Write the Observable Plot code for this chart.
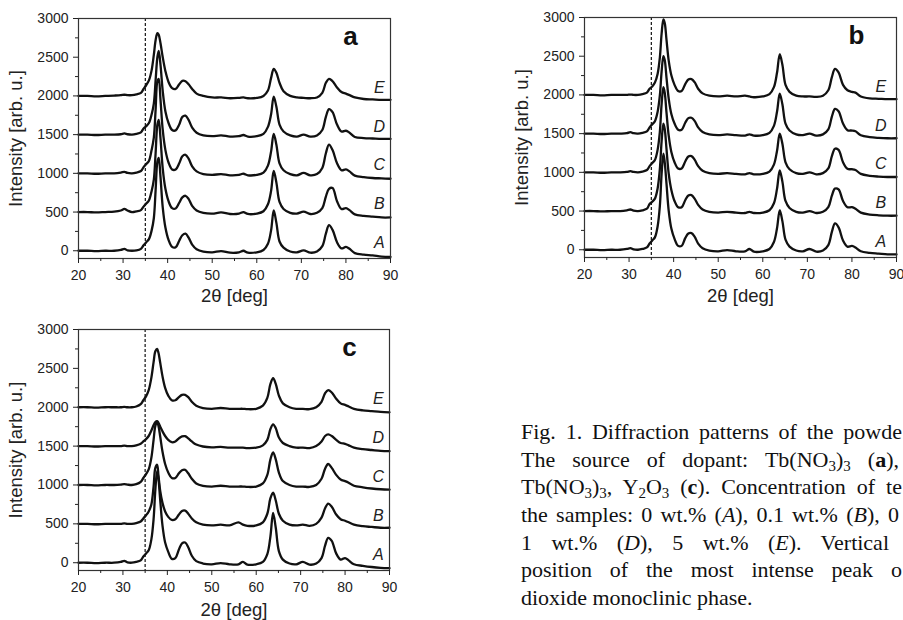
<!DOCTYPE html>
<html><head><meta charset="utf-8">
<script src="https://cdn.jsdelivr.net/npm/d3@7"></script>
<script src="https://cdn.jsdelivr.net/npm/@observablehq/plot@0.6"></script>
<style>
html,body{margin:0;padding:0;background:#fff;overflow:hidden;}
#wrap{position:relative;width:903px;height:620px;overflow:hidden;background:#fff;}
.panel{position:absolute;}
#caption{position:absolute;left:521px;top:418px;font-family:"Liberation Serif","Times New Roman",serif;font-size:22px;line-height:27.7px;color:#111;}
#caption .ln{white-space:nowrap;text-align:justify;text-align-last:justify;height:27.7px;}
#caption sub{font-size:0.68em;line-height:0;vertical-align:-0.3em;}
</style></head>
<body>
<div id="wrap">
  <div class="panel" id="pa" style="left:0;top:0"></div>
  <div class="panel" id="pb" style="left:500px;top:0"></div>
  <div class="panel" id="pc" style="left:0;top:310px"></div>
  <div id="caption">
    <div class="ln" style="width:381px">Fig. 1. Diffraction patterns of the powde</div>
    <div class="ln" style="width:378px">The source of dopant: Tb(NO<sub>3</sub>)<sub>3</sub> (<b>a</b>),</div>
    <div class="ln" style="width:381px">Tb(NO<sub>3</sub>)<sub>3</sub>, Y<sub>2</sub>O<sub>3</sub> (<b>c</b>). Concentration of te</div>
    <div class="ln" style="width:378px">the samples: 0 wt.% (<i>A</i>), 0.1 wt.% (<i>B</i>), 0</div>
    <div class="ln" style="width:368px">1 wt.% (<i>D</i>), 5 wt.% (<i>E</i>). Vertical</div>
    <div class="ln" style="width:381px">position of the most intense peak o</div>
    <div class="ln" style="text-align:left;text-align-last:left">dioxide monoclinic phase.</div>
  </div>
</div>
<script>
// shared 2θ grid (deg)
const xGrid = [20,22,24,26,28,29.5,30.3,31,32,33,
  34,34.6,35.2,35.8,36.4,36.9,37.3,37.7,38.0,38.4,
  38.9,39.5,40.2,41,41.8,42.6,43.3,44,44.7,45.5,
  46.5,48,50,52,54,56,57,58,60,61.5,
  62.5,63.2,63.8,64.4,65.1,66,67.5,69,70.5,72,
  73.5,74.7,75.5,76.2,77,78,79,80,80.8,82,
  84,86,88,90];
const seriesNames = ["A","B","C","D","E"];
const offsets = [0,500,1000,1500,2000];
const xTicks = [20,30,40,50,60,70,80,90];
const xMinor = [25,35,45,55,65,75,85];
const yTicks = [0,500,1000,1500,2000,2500,3000];
const yMinor = [250,750,1250,1750,2250,2750];
const xTitle = "2θ [deg]";
const yTitle = "Intensity [arb. u.]";

// Panel a: intensity above each pattern's baseline
const aA = [0,0,-5,0,0,10,25,5,0,5,
  25,70,110,150,260,420,780,1150,1200,950,
  560,300,140,50,45,130,200,220,170,80,
  20,-10,-20,-5,-25,-20,0,-25,-20,10,
  90,260,520,360,120,40,-10,-20,5,-25,
  -10,60,220,330,270,110,30,50,25,-30,
  -50,-60,-75,-80];
const aB = [0,0,-5,0,5,20,40,20,0,10,
  25,70,110,150,270,420,760,1130,1190,950,
  560,300,140,50,45,120,190,210,170,80,
  20,-10,-20,-5,-25,-20,0,-25,-20,10,
  100,270,530,380,130,40,-10,-20,5,-25,
  -10,50,200,300,310,140,40,50,25,-30,
  -50,-60,-70,-70];
const aC = [0,0,-5,0,0,10,20,5,0,10,
  30,80,120,160,300,460,820,1190,1220,950,
  560,300,140,50,50,130,220,240,190,90,
  25,-10,-20,-10,-25,-20,-5,-25,-20,10,
  100,280,510,370,130,40,-10,-25,5,-25,
  -10,70,260,370,300,130,40,50,25,-30,
  -50,-60,-65,-70];
const aD = [0,0,-5,0,0,5,15,5,0,10,
  30,80,110,150,260,400,700,1000,1080,900,
  560,300,150,60,55,130,230,245,190,90,
  25,-10,-20,-10,-25,-20,-5,-25,-20,10,
  100,260,490,360,130,40,-10,-25,0,-25,
  -10,60,230,330,290,130,40,50,25,-30,
  -45,-50,-55,-55];
const aE = [0,0,-5,0,5,10,15,10,10,20,
  40,90,140,200,330,530,720,810,790,680,
  500,320,180,100,90,150,195,190,150,90,
  30,0,-20,-20,-30,-25,-20,-30,-25,0,
  70,230,350,300,170,60,0,-20,-25,-30,
  -20,40,170,220,190,110,50,30,10,-20,
  -40,-45,-50,-50];

// Panel b
const bA = [0,0,-5,0,0,10,20,5,0,10,
  30,80,120,160,300,560,980,1240,1130,850,
  500,270,140,50,50,150,210,215,170,80,
  20,-10,-20,-5,-20,-20,10,-25,-20,10,
  100,280,510,370,130,40,-10,-20,10,-25,
  -10,60,230,340,290,120,40,50,30,-20,
  -40,-50,-60,-60];
const bB = [0,0,-5,0,0,10,20,5,0,10,
  30,90,120,160,290,540,900,1130,1060,800,
  480,270,130,50,50,140,200,205,160,80,
  20,-10,-20,-10,-20,-25,-10,-25,-20,10,
  100,290,525,380,130,40,-10,-20,0,-25,
  -10,50,200,290,280,130,50,50,30,-20,
  -45,-55,-60,-60];
const bC = [0,0,-5,0,0,5,15,5,0,10,
  30,80,120,160,290,520,880,1100,1030,770,
  470,260,130,50,50,140,205,210,165,80,
  20,-10,-20,-10,-20,-25,-10,-25,-20,10,
  100,280,500,370,130,40,-10,-20,0,-25,
  -10,50,210,305,290,130,45,40,30,-20,
  -45,-55,-60,-60];
const bD = [0,0,-5,0,0,5,20,5,0,10,
  30,80,120,160,280,490,800,1000,950,720,
  450,250,130,50,50,140,200,205,165,80,
  20,-10,-20,-10,-20,-25,-10,-25,-20,10,
  100,285,515,380,130,40,-10,-20,0,-25,
  -10,55,220,320,290,130,45,40,30,-20,
  -45,-55,-60,-60];
const bE = [0,0,-5,0,0,0,5,0,0,10,
  30,80,110,160,270,480,790,975,930,710,
  440,250,130,50,50,140,200,205,165,80,
  20,-10,-20,-10,-20,-10,-20,-30,-20,10,
  100,290,525,390,130,40,-10,-20,-20,-25,
  -10,60,230,335,290,130,60,40,30,-20,
  -45,-50,-55,-55];

// Panel c
const cA = [0,0,-5,0,0,10,25,5,0,10,
  30,80,120,160,300,560,940,1180,1080,800,
  480,260,140,50,60,170,250,260,200,90,
  20,-10,-20,-5,-20,-20,10,-25,-20,10,
  110,340,640,450,150,40,-10,-20,10,-25,
  -10,60,220,320,280,120,40,60,30,-20,
  -40,-55,-65,-70];
const cB = [0,0,-5,0,0,0,5,0,0,10,
  30,70,110,160,250,480,720,760,620,420,
  270,160,90,50,60,120,165,170,130,70,
  20,-10,-20,-10,-20,20,-10,-25,-20,20,
  130,330,400,300,130,40,-10,-20,-10,-25,
  0,80,200,260,220,120,60,40,20,-10,
  -30,-40,-50,-50];
const cC = [0,0,-5,0,0,5,10,5,0,10,
  40,90,140,200,350,580,760,810,760,620,
  430,270,160,90,90,150,190,195,150,80,
  20,-10,-20,-10,-20,-20,-20,-25,-20,20,
  130,330,420,330,160,50,0,-20,-20,-25,
  0,80,210,270,220,130,70,50,30,-10,
  -30,-45,-55,-60];
const cD = [0,0,-5,0,0,0,5,0,0,10,
  30,60,90,130,200,270,310,320,300,250,
  190,130,80,50,60,100,125,128,100,60,
  20,-5,-15,-10,-20,-20,-20,-25,-20,10,
  80,220,280,230,110,40,0,-20,-20,-25,
  0,60,130,150,130,80,40,30,10,-20,
  -40,-50,-60,-65];
const cE = [0,0,-5,0,0,0,5,0,0,10,
  40,90,140,220,380,580,720,750,700,570,
  400,250,150,90,90,130,160,160,130,70,
  20,-10,-20,-10,-20,-20,-20,-25,-20,20,
  120,300,375,300,150,50,0,-20,-20,-25,
  0,70,180,220,190,110,50,30,10,-20,
  -40,-50,-60,-65];

function panel(vals, letter, o) {
  const data = [];
  vals.forEach((arr, k) => arr.forEach((v, i) => data.push({x: xGrid[i], y: v + offsets[k], s: seriesNames[k]})));
  const labels = seriesNames.map((s, k) => ({x: o.labelX, y: offsets[k] + 105, s}));
  return Plot.plot({
    width: o.width, height: o.height,
    marginLeft: o.ml, marginRight: o.mr, marginTop: o.mt, marginBottom: o.mb,
    style: {fontFamily: "'Liberation Sans', Arial, sans-serif", fontSize: "14px", background: "transparent", color: "#222", overflow: "visible"},
    x: {domain: [20, 90]},
    y: {domain: [-100, 3000]},
    marks: [
      Plot.ruleX([35], {stroke: "#222", strokeWidth: 1.3, strokeDasharray: "3,2"}),
      Plot.line(data, {x: "x", y: "y", z: "s", stroke: "#111", strokeWidth: 2.3, curve: "catmull-rom"}),
      Plot.frame({stroke: "#333", strokeWidth: 1.2}),
      Plot.axisX(xTicks, {tickSize: 5, tickPadding: 7, label: null, tickFormat: d => String(d)}),
      Plot.axisX(xMinor, {tickSize: 3, tickFormat: () => "", label: null}),
      Plot.axisY(yTicks, {tickSize: 5, tickPadding: 5, label: null, tickFormat: d => String(d)}),
      Plot.axisY(yMinor, {tickSize: 3, tickFormat: () => "", label: null}),
      Plot.text([xTitle], {frameAnchor: "bottom", textAnchor: "middle", lineAnchor: "middle", dy: o.xtDy, fontSize: 18.5}),
      Plot.text([yTitle], {frameAnchor: "left", textAnchor: "middle", lineAnchor: "middle", rotate: -90, dx: -62, fontSize: 18.5}),
      Plot.text([letter], {frameAnchor: "top-right", textAnchor: "middle", lineAnchor: "middle", dx: -40, dy: 18.5, fontSize: 26, fontWeight: "bold", fill: "#111"}),
      Plot.text(labels, {x: "x", y: "y", text: "s", fontSize: 16, fontStyle: "italic", fill: "#222"})
    ]
  });
}

document.getElementById("pa").append(panel([aA, aB, aC, aD, aE], "a",
  {width: 403, height: 310, ml: 78, mr: 13, mt: 18, mb: 52, labelX: 87.5, xtDy: 38}));
document.getElementById("pb").append(panel([bA, bB, bC, bD, bE], "b",
  {width: 403, height: 310, ml: 84, mr: 7, mt: 17, mb: 53, labelX: 86.5, xtDy: 39}));
document.getElementById("pc").append(panel([cA, cB, cC, cD, cE], "c",
  {width: 402, height: 310, ml: 78, mr: 13, mt: 19, mb: 50, labelX: 87.5, xtDy: 40}));
</script>
</body></html>
